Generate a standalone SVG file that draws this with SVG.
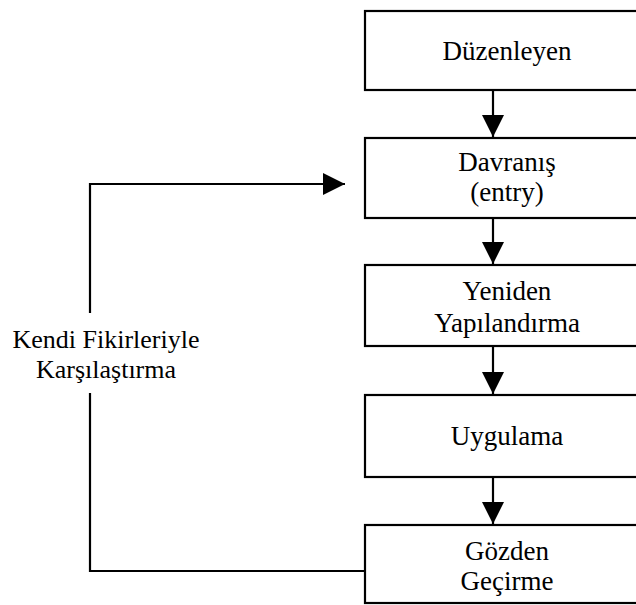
<svg xmlns="http://www.w3.org/2000/svg" width="636" height="605" viewBox="0 0 636 605">
<defs>
<style>
.box{fill:#fff;stroke:#000;stroke-width:2.2}
.t{font-family:"Liberation Serif","Times New Roman",serif;font-size:27px;fill:#000;text-anchor:middle}
.l{font-size:26px}
.c{fill:none;stroke:#000;stroke-width:2.2}
</style>
<marker id="ah" markerUnits="userSpaceOnUse" markerWidth="24" markerHeight="22" refX="22" refY="11" orient="auto">
<path d="M0,0 L22,11 L0,22 Z" fill="#000"/>
</marker>
</defs>
<rect width="636" height="605" fill="#fff"/>
<g id="connectors">
<line class="c" x1="493" y1="91" x2="493" y2="137" marker-end="url(#ah)"/>
<line class="c" x1="493" y1="219" x2="493" y2="264" marker-end="url(#ah)"/>
<line class="c" x1="493" y1="347" x2="493" y2="394" marker-end="url(#ah)"/>
<line class="c" x1="493" y1="478" x2="493" y2="524" marker-end="url(#ah)"/>
<polyline class="c" points="365,571 90,571 90,393"/>
<polyline class="c" points="90,313 90,184 345,184" marker-end="url(#ah)"/>
</g>
<g id="n1"><rect class="box" x="365" y="11" width="280" height="79"/><text class="t" x="507" y="60">Düzenleyen</text></g>
<g id="n2"><rect class="box" x="365" y="138" width="280" height="80"/><text class="t" x="507" y="171">Davranış</text><text class="t" x="507" y="201">(entry)</text></g>
<g id="n3"><rect class="box" x="365" y="265" width="280" height="81"/><text class="t" x="507" y="300">Yeniden</text><text class="t" x="507" y="332">Yapılandırma</text></g>
<g id="n4"><rect class="box" x="365" y="395" width="280" height="82"/><text class="t" x="507" y="445">Uygulama</text></g>
<g id="n5"><rect class="box" x="365" y="525" width="280" height="78"/><text class="t" x="507" y="560">Gözden</text><text class="t" x="507" y="590">Geçirme</text></g>
<g id="label"><text class="t l" x="106" y="348">Kendi Fikirleriyle</text><text class="t l" x="106" y="378">Karşılaştırma</text></g>
</svg>
